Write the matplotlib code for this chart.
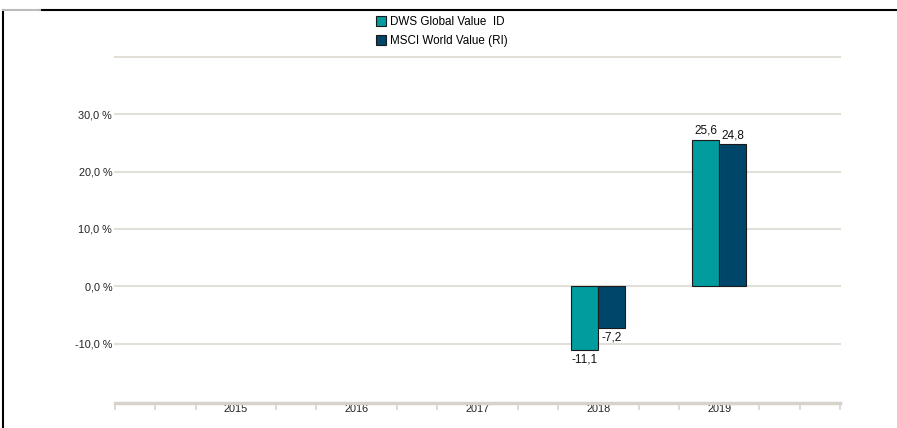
import matplotlib.pyplot as plt
from matplotlib.lines import Line2D
from matplotlib.patches import Rectangle

plt.rcParams['font.family'] = ['Liberation Sans', 'DejaVu Sans']

# Data
years = ['2015', '2016', '2017', '2018', '2019']
fund_name = 'DWS Global Value  ID'
bench_name = 'MSCI World Value (RI)'
fund_vals = [None, None, None, -11.1, 25.6]
bench_vals = [None, None, None, -7.2, 24.8]

TEAL = '#009C9E'
NAVY = '#00466A'
GRID = '#E2DFD9'
AXIS = '#D8D3CA'

fig = plt.figure(figsize=(8.97, 4.28), dpi=100)
ax = fig.add_axes([115 / 897, 25 / 428, 725 / 897, 346 / 428])

w = 0.224
for i, (f, b) in enumerate(zip(fund_vals, bench_vals)):
    if f is not None:
        ax.bar(i - w / 2, f, width=w, color=TEAL, edgecolor='#1a1a1a', linewidth=0.8, zorder=3)
        ax.text(i - w / 2, f + (0.5 if f > 0 else -0.7), f'{f:.1f}'.replace('.', ','),
                ha='center', va='bottom' if f > 0 else 'top', fontsize=8.5, color='#111111')
    if b is not None:
        ax.bar(i + w / 2, b, width=w, color=NAVY, edgecolor='#1a1a1a', linewidth=0.8, zorder=3)
        ax.text(i + w / 2, b + (0.5 if b > 0 else -0.7), f'{b:.1f}'.replace('.', ','),
                ha='center', va='bottom' if b > 0 else 'top', fontsize=8.5, color='#111111')

ax.set_xlim(-1, 5)
ax.set_ylim(-20.35, 40)

# grid lines
for yv in [-10, 0, 10, 20, 30, 40]:
    ax.axhline(yv, color=GRID, linewidth=1.5, zorder=1, clip_on=False)

ax.set_yticks([-10, 0, 10, 20, 30])
ax.set_yticklabels([f'{v:.1f} %'.replace('.', ',') for v in [-10, 0, 10, 20, 30]],
                   fontsize=7.8, color='#222222')
ax.tick_params(axis='y', length=0, pad=2)

ax.set_xticks(range(len(years)))
ax.set_xticklabels(years, fontsize=7.8, color='#222222')
ax.tick_params(axis='x', length=0, pad=1)
minor = [k / 3 for k in range(-3, 16) if not (k % 3 == 0 and 0 <= k // 3 <= 4)]
ax.set_xticks(minor, minor=True)
ax.tick_params(axis='x', which='minor', length=5, width=1.2, color=AXIS)

for s in ['top', 'right', 'left']:
    ax.spines[s].set_visible(False)
ax.spines['bottom'].set_color(AXIS)
ax.spines['bottom'].set_linewidth(2.5)

# legend
handles = [Rectangle((0, 0), 1, 1, facecolor=TEAL, edgecolor='#1a1a1a', linewidth=0.8),
           Rectangle((0, 0), 1, 1, facecolor=NAVY, edgecolor='#1a1a1a', linewidth=0.8)]
fig.legend(handles, [fund_name, bench_name], loc='upper left',
           bbox_to_anchor=(368 / 897, 1 - 8 / 428), frameon=False, fontsize=8.4,
           handlelength=0.8, handleheight=0.9, handletextpad=0.4, labelspacing=0.6,
           borderpad=0.2)

# outer frame
fig.add_artist(Line2D([3 / 897, 3 / 897], [0, 1 - 10 / 428], color='black', linewidth=1.5,
                      transform=fig.transFigure))
fig.add_artist(Line2D([40 / 897, 1], [1 - 10 / 428, 1 - 10 / 428], color='black', linewidth=1.5,
                      transform=fig.transFigure))
fig.add_artist(Line2D([3 / 897, 40 / 897], [1 - 10 / 428, 1 - 10 / 428], color='#bbbbbb',
                      linewidth=1.5, transform=fig.transFigure))

fig.savefig('out.png', dpi=100)
